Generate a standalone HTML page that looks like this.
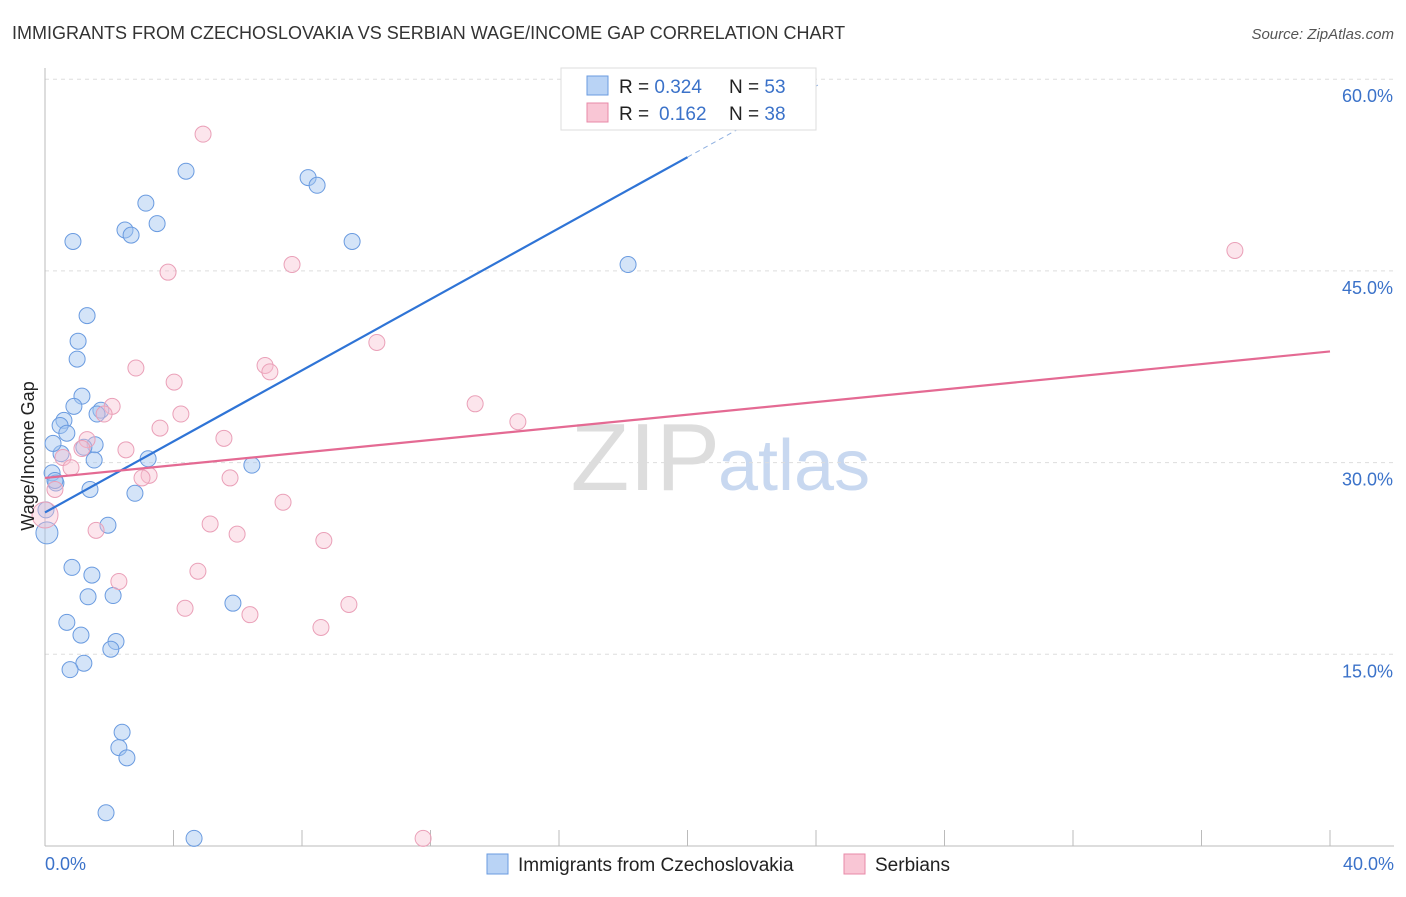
<!DOCTYPE html>
<html><head><meta charset="utf-8">
<style>
body{margin:0;background:#fff;font-family:"Liberation Sans",sans-serif;}
svg text{font-family:"Liberation Sans",sans-serif;}
</style></head>
<body>
<svg id="chart" width="1406" height="892" xmlns="http://www.w3.org/2000/svg">
<text x="12" y="39" font-size="18" fill="#333">IMMIGRANTS FROM CZECHOSLOVAKIA VS SERBIAN WAGE/INCOME GAP CORRELATION CHART</text>
<text x="1394" y="39" font-size="15" fill="#555" text-anchor="end" font-style="italic">Source: ZipAtlas.com</text>
<text x="720" y="490" font-size="96" fill="#ddd" text-anchor="end" font-family="Liberation Serif">ZIP</text>
<text x="718" y="490" font-size="72" fill="#c8d8f0">atlas</text>
<g id="grid"></g>
<g id="axes"></g>
<g id="points"></g>
<g id="lines"></g>
<text transform="translate(34,456) rotate(-90)" font-size="18" fill="#222" text-anchor="middle">Wage/Income Gap</text>
<text x="45" y="870" font-size="18" fill="#3b72c9">0.0%</text>
<text x="1394" y="870" font-size="18" fill="#3b72c9" text-anchor="end">40.0%</text>
<g>
<rect x="561" y="68" width="255" height="62" fill="#fff" stroke="#ddd"/>
<rect x="587" y="76" width="21" height="19" fill="#b9d3f5" stroke="#6a9be0"/>
<rect x="587" y="103" width="21" height="19" fill="#f9c6d5" stroke="#e88aa8"/>
<text x="619" y="93" font-size="19" fill="#222">R = <tspan fill="#3b72c9">0.324</tspan><tspan x="729">N = </tspan><tspan fill="#3b72c9">53</tspan></text>
<text x="619" y="120" font-size="19" fill="#222">R = <tspan fill="#3b72c9" x="659">0.162</tspan><tspan x="729">N = </tspan><tspan fill="#3b72c9">38</tspan></text>
</g>
<g>
<rect x="487" y="854" width="21" height="20" fill="#b9d3f5" stroke="#6a9be0"/>
<text x="518" y="871" font-size="19" fill="#222">Immigrants from Czechoslovakia</text>
<rect x="844" y="854" width="21" height="20" fill="#f9c6d5" stroke="#e88aa8"/>
<text x="875" y="871" font-size="19" fill="#222">Serbians</text>
</g>
</svg>
<script>
const yTicks=[15,30,45,60];
const czechX=[4.39,8.19,8.47,3.14,3.49,2.49,2.68,0.87,9.56,18.15,1.31,1.03,1.0,1.15,0.9,1.74,1.62,0.59,0.47,0.68,1.56,1.21,0.5,1.53,3.21,6.44,0.25,0.22,0.34,1.4,2.8,0.03,1.96,0.06,0.84,1.46,1.34,2.12,5.85,0.68,1.12,2.21,2.05,1.21,0.78,2.4,2.3,2.55,1.9,4.64,0.31];
const czechY=[52.8,52.3,51.7,50.3,48.7,48.2,47.8,47.3,47.3,45.5,41.5,39.5,38.1,35.2,34.4,34.1,33.8,33.3,32.9,32.3,31.4,31.2,30.7,30.2,30.3,29.8,31.5,29.2,28.4,27.9,27.6,26.3,25.1,24.5,21.8,21.2,19.5,19.6,19.0,17.5,16.5,16.0,15.4,14.3,13.8,8.9,7.7,6.9,2.6,0.6,28.6];
const serbX=[4.92,7.69,3.83,37.04,10.33,2.83,6.85,7.0,4.02,2.09,1.84,4.23,3.58,1.31,1.15,5.57,2.52,0.56,0.81,3.24,3.02,5.76,0.31,7.41,5.14,1.59,5.98,8.68,4.76,2.3,4.36,9.46,6.38,8.59,11.77,13.39,14.72,0];
const serbY=[55.7,45.5,44.9,46.6,39.4,37.4,37.6,37.1,36.3,34.4,33.8,33.8,32.7,31.8,31.1,31.9,31.0,30.4,29.6,29.0,28.8,28.8,27.9,26.9,25.2,24.7,24.4,23.9,21.5,20.7,18.6,18.9,18.1,17.1,0.6,34.6,33.2,25.9];
const czechTrend=[26.1,53.9];const czechTrendX=[0,20];
const serbTrend=[28.8,38.7];const serbTrendX=[0,40];
const NS='http://www.w3.org/2000/svg';
const xs=v=>45+v*32.125, ys=v=>846-v*12.78;
function mk(t,a,p){const e=document.createElementNS(NS,t);for(const k in a)e.setAttribute(k,a[k]);document.getElementById(p).appendChild(e);return e;}
yTicks.forEach(t=>{
 const l=mk('line',{x1:45,x2:1394,y1:ys(t),y2:ys(t),stroke:'#ddd','stroke-dasharray':'4,4'},'grid');
 
 
 const tx=mk('text',{x:1393,y:ys(t)+23,'font-size':18,fill:'#3b72c9','text-anchor':'end'},'grid');
 tx.textContent=t.toFixed(1)+'%';
 
 
});
const ax=mk('line',{x1:45,x2:45,y1:68,y2:846,stroke:'#bbb'},'axes');


const bx=mk('line',{x1:45,x2:1394,y1:846,y2:846,stroke:'#bbb'},'axes');


for(let i=0;i<=10;i++){const t=mk('line',{x1:xs(i*4),x2:xs(i*4),y1:830,y2:846,stroke:'#bbb'},'axes');
 
 }
czechX.forEach((x,i)=>{const c=mk('circle',{cx:xs(x),cy:ys(czechY[i]),r:i==33?11:8,fill:'rgba(160,196,240,0.45)',stroke:'#6a9be0','stroke-width':1},'points');
 
 });
serbX.forEach((x,i)=>{const c=mk('circle',{cx:xs(x),cy:ys(serbY[i]),r:i==37?13:8,fill:'rgba(248,190,208,0.4)',stroke:'#eaa0b8','stroke-width':1},'points');
 
 });
const bt=mk('line',{x1:xs(czechTrendX[0]),y1:ys(czechTrend[0]),x2:xs(czechTrendX[1]),y2:ys(czechTrend[1]),stroke:'#2f74d6','stroke-width':2.2},'lines');


const slope=(czechTrend[1]-czechTrend[0])/(czechTrendX[1]-czechTrendX[0]);
const bd=mk('line',{x1:xs(czechTrendX[1]),y1:ys(czechTrend[1]),x2:xs(24.1),y2:ys(czechTrend[0]+slope*24.1),stroke:'#8fb0e0','stroke-width':1,'stroke-dasharray':'5,4'},'lines');


const pt=mk('line',{x1:xs(serbTrendX[0]),y1:ys(serbTrend[0]),x2:xs(serbTrendX[1]),y2:ys(serbTrend[1]),stroke:'#e46a93','stroke-width':2.2},'lines');


</script>
</body></html>
